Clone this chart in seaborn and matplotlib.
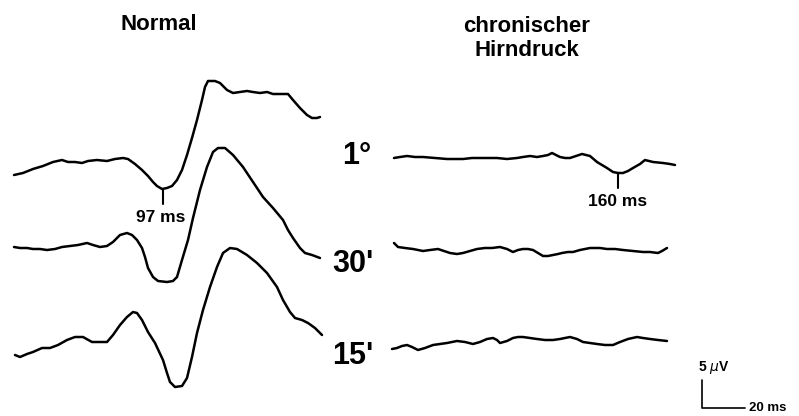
import matplotlib
matplotlib.use("Agg")
import matplotlib.pyplot as plt
import seaborn as sns

sns.set_theme(style="white")
plt.rcParams["font.family"] = ["Liberation Sans", "DejaVu Sans"]
plt.rcParams["text.color"] = "black"

# traces (pixel positions, y downward)
normal_1_x = [14, 23, 33, 43, 53, 62, 68, 75, 82, 88, 97, 107, 115, 123, 128, 135, 142, 148, 153, 157, 162, 167, 172, 177, 182, 187, 192, 197, 202, 205, 208, 215, 220, 227, 233, 240, 247, 253, 260, 267, 273, 282, 288, 293, 300, 307, 312, 317, 320]
normal_1_y = [175, 173, 169, 166, 162, 160, 162, 162, 163, 161, 160, 161, 159, 158, 159, 164, 170, 176, 182, 186, 189, 188, 186, 180, 170, 155, 138, 120, 100, 87, 81, 81, 83, 90, 93, 92, 91, 92, 93, 92, 94, 94, 94, 100, 108, 115, 118, 118, 117]

normal_30_x = [14, 20, 27, 33, 40, 47, 55, 62, 70, 78, 87, 93, 100, 107, 113, 120, 127, 132, 137, 142, 145, 148, 153, 158, 167, 173, 177, 182, 188, 193, 200, 207, 213, 218, 225, 233, 243, 253, 263, 273, 283, 288, 293, 300, 305, 312, 320]
normal_30_y = [247, 248, 248, 249, 249, 250, 249, 247, 246, 245, 243, 245, 247, 246, 242, 235, 233, 235, 240, 248, 257, 268, 277, 281, 282, 281, 277, 260, 240, 218, 190, 167, 152, 148, 148, 155, 167, 182, 197, 208, 220, 230, 238, 248, 253, 255, 258]

normal_15_x = [15, 20, 27, 33, 42, 50, 58, 67, 75, 83, 92, 100, 107, 113, 120, 127, 133, 137, 142, 148, 155, 163, 167, 170, 175, 182, 187, 192, 197, 203, 210, 217, 223, 230, 237, 247, 257, 267, 277, 283, 290, 295, 302, 308, 315, 322]
normal_15_y = [355, 357, 354, 352, 348, 348, 345, 340, 337, 337, 342, 342, 342, 335, 325, 317, 312, 313, 320, 332, 343, 360, 373, 382, 387, 386, 378, 357, 333, 310, 287, 267, 253, 248, 249, 255, 263, 273, 287, 300, 312, 318, 320, 323, 328, 335]

chron_1_x = [394, 400, 407, 415, 423, 435, 447, 455, 463, 472, 480, 488, 497, 507, 517, 523, 530, 537, 543, 548, 552, 556, 560, 565, 570, 576, 582, 590, 597, 602, 607, 613, 618, 623, 628, 633, 640, 645, 653, 663, 670, 675]
chron_1_y = [158, 157, 156, 157, 157, 158, 159, 159, 159, 158, 158, 158, 158, 159, 158, 157, 156, 157, 156, 155, 153, 155, 157, 158, 158, 156, 154, 156, 162, 165, 168, 172, 173, 173, 171, 168, 164, 160, 162, 163, 164, 165]

chron_30_x = [394, 398, 405, 413, 418, 423, 430, 438, 444, 450, 457, 463, 470, 477, 485, 492, 500, 507, 513, 518, 523, 528, 533, 538, 543, 548, 553, 558, 562, 568, 573, 580, 590, 600, 607, 615, 623, 633, 643, 650, 658, 662, 667]
chron_30_y = [243, 247, 248, 249, 250, 251, 250, 249, 251, 253, 254, 253, 251, 249, 248, 248, 247, 249, 252, 250, 249, 249, 250, 253, 256, 256, 255, 254, 253, 252, 252, 250, 248, 248, 249, 249, 250, 251, 252, 252, 253, 251, 248]

chron_15_x = [392, 397, 402, 407, 412, 418, 425, 433, 440, 447, 457, 465, 473, 480, 487, 493, 497, 500, 507, 513, 518, 523, 530, 537, 545, 553, 560, 565, 570, 577, 583, 590, 597, 605, 613, 620, 628, 637, 643, 650, 658, 667]
chron_15_y = [349, 348, 346, 345, 347, 350, 348, 345, 344, 343, 341, 342, 344, 342, 339, 338, 340, 343, 341, 338, 337, 337, 338, 339, 340, 340, 339, 338, 337, 339, 342, 343, 344, 345, 345, 342, 339, 337, 338, 339, 340, 341]

traces = [
    (normal_1_x, normal_1_y), (normal_30_x, normal_30_y), (normal_15_x, normal_15_y),
    (chron_1_x, chron_1_y), (chron_30_x, chron_30_y), (chron_15_x, chron_15_y),
]

row_labels = ["1°", "30'", "15'"]
row_label_pos = [(357, 156), (353, 264), (353, 356)]

fig = plt.figure(figsize=(7.99, 4.16), dpi=100)
ax = fig.add_axes([0, 0, 1, 1])

for xs, ys in traces:
    sns.lineplot(x=xs, y=ys, ax=ax, color="black", lw=1.8, sort=False, estimator=None,
                 solid_joinstyle="round", solid_capstyle="round")

# latency markers
ax.plot([163, 163], [189, 204], color="black", lw=1.5)
ax.text(161, 217, "97 ms", ha="center", va="center", fontsize=12.5, fontweight="bold")
ax.plot([618, 618], [173, 188], color="black", lw=1.5)
ax.text(618, 201, "160 ms", ha="center", va="center", fontsize=12.5, fontweight="bold")

# titles
ax.text(159, 25, "Normal", ha="center", va="center", fontsize=16, fontweight="bold")
ax.text(527, 26, "chronischer", ha="center", va="center", fontsize=16, fontweight="bold")
ax.text(527, 51, "Hirndruck", ha="center", va="center", fontsize=16, fontweight="bold")

for lab, (x, y) in zip(row_labels, row_label_pos):
    ax.text(x, y, lab, ha="center", va="center", fontsize=22, fontweight="bold")

# scale bar
ax.plot([702, 702, 745], [380, 408, 408], color="black", lw=1.2)
ax.text(698, 367, "5 $\\mu$V", ha="left", va="center", fontsize=10, fontweight="bold")
ax.text(749, 408, "20 ms", ha="left", va="center", fontsize=9.5, fontweight="bold")

ax.set_xlim(0, 799)
ax.set_ylim(416, 0)
ax.axis("off")

fig.savefig("out.png", dpi=100)
